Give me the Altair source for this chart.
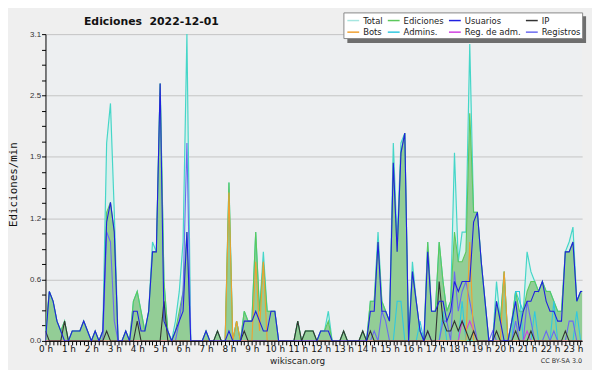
import altair as alt
import pandas as pd

# ---------------- data (values are edits per minute, 10-minute buckets) ----------------
hour_labels = [f"{h} h" for h in range(24)]
series_names = ["Total", "Ediciones", "Usuarios", "IP", "Bots", "Admins.", "Reg. de adm.", "Registros"]
series_colors = ["#a6e6e0", "#5cc85c", "#2020e0", "#333333", "#f0a030", "#30c8e0", "#d040e0", "#6a6af0"]

total = [
    .1, .5, .4, .2, .1, .2,   0, .1, .1, .1, .2, .1,   0, .1, 0, .1, 2.0, 2.4,
    1.3, 0, 0, .1, 0, .4,   .5, .3, .1, .3, 1.0, .9,   2.6, .6, .1, 0, .2, .5,
    1.0, 3.1, 0, 0, 0, 0,   .1, 0, 0, .1, 0, 0,   1.6, 0, .2, 0, .3, .2,
    .2, 1.1, .3, .9, .3, .3,   .3, 0, 0, 0, 0, 0,   .2, 0, .1, .1, .1, 0,
    .1, .1, .3, 0, 0, 0,   .1, 0, 0, 0, 0, .1,   0, .4, .4, 1.1, .4, .3,
    .2, 2.0, 1.0, 2.0, 2.1, 0,   .8, .4, .1, 0, 1.0, .3,   .3, 1.0, .6, .3, .4, 1.9,
    .8, 1.1, 1.1, 3.0, 1.3, 1.3,   .8, .4, 0, 0, .6, .2,   .7, 0, .2, .5, .4, .3,
    .9, .7, .6, .5, .6, .5,   .5, .4, .3, .3, .9, 1.0,   1.15, .4, .5, .5, .5, .5,
]
ediciones = [
    .1, .5, .4, .2, .1, .2,   0, .1, .1, .1, .2, .1,   0, .1, 0, .1, 1.3, 1.4,
    1.1, 0, 0, .1, 0, .4,   .5, .3, .1, .3, .9, .9,   2.6, .6, .1, 0, .1, .3,
    .5, 1.1, 0, 0, 0, 0,   .1, 0, 0, .1, 0, 0,   1.6, 0, .2, 0, .3, .2,
    .2, 1.1, .3, .8, .3, .3,   .3, 0, 0, 0, 0, 0,   .2, 0, .1, .1, .1, 0,
    .1, .1, .2, 0, 0, 0,   .1, 0, 0, 0, 0, .1,   0, .4, .4, 1.0, .4, .3,
    .2, 1.8, .9, 1.9, 2.1, 0,   .7, .4, .1, 0, 1.0, .3,   .3, 1.0, .6, .3, .4, 1.1,
    .8, .8, .9, 2.3, 1.3, 1.3,   .8, .4, 0, 0, .4, .2,   .7, 0, .2, .5, .3, .3,
    .5, .6, .6, .5, .6, .5,   .5, .4, .3, .3, .9, .9,   1.0, .4, .5, .5, .5, .5,
]
usuarios = [
    0, .5, .4, .2, .1, 0,   0, .1, .1, .1, .2, .1,   0, .1, 0, .1, 1.2, 1.4,
    1.1, 0, 0, .1, 0, .3,   .3, .1, .1, .3, .9, .9,   2.6, .2, .1, 0, .1, .2,
    .3, 1.1, 0, 0, 0, 0,   .1, 0, 0, 0, 0, 0,   .1, 0, 0, 0, .2, .2,
    .2, .3, .2, .1, .1, .3,   .3, 0, 0, 0, 0, 0,   0, 0, 0, 0, 0, 0,
    .1, .1, .1, 0, 0, 0,   0, 0, 0, 0, 0, 0,   0, .3, .3, 1.0, .3, .3,
    .2, 1.8, .9, 1.9, 2.1, 0,   .7, .4, .1, 0, .9, .3,   .3, .4, .4, .2, .3, .6,
    .5, .6, .6, .6, 1.2, 1.3,   .8, .4, 0, 0, .4, .2,   0, 0, .2, .4, .1, .3,
    .4, .4, .5, .5, .6, .4,   .3, .3, .2, .2, .9, .9,   1.0, .4, .5, .5, .5, .5,
]
ip = [
    .1, 0, 0, 0, 0, .2,   0, 0, 0, 0, 0, 0,   0, 0, 0, 0, .1, 0,
    0, 0, 0, 0, 0, 0,   .2, 0, 0, 0, 0, 0,   0, .4, 0, 0, 0, 0,
    0, 0, 0, 0, 0, 0,   0, 0, 0, .1, 0, 0,   0, 0, 0, 0, .1, 0,
    0, 0, 0, 0, 0, 0,   0, 0, 0, 0, 0, 0,   .2, 0, .1, .1, .1, 0,
    0, 0, 0, 0, 0, 0,   .1, 0, 0, 0, 0, .1,   0, .1, 0, 0, 0, 0,
    0, 0, 0, 0, 0, 0,   0, 0, 0, 0, .1, 0,   0, .6, .2, .1, .1, .2,
    .1, .2, .1, 0, .1, 0,   0, 0, 0, 0, .1, 0,   0, 0, 0, .1, 0, 0,
    0, .1, 0, 0, 0, 0,   0, 0, 0, 0, .1, 0,   0, 0, 0, 0, 0, 0,
]
bots = [0.0] * 144
bots_points = {48: 1.5, 50: .2, 55: .8, 56: .1, 57: .8, 111: 1.0, 120: .7}
admins = [0.0] * 144
admins_points = {92: .4, 93: .4, 98: .2, 104: .3, 109: .4, 123: .5, 124: .5, 128: .3, 133: .4, 139: .3}
reg_adm = [0.0] * 144
reg_adm_points = {109: .2, 110: .1, 111: .2, 112: .1, 126: .1}
registros = [0.0] * 144
registros_points = {16: 1.1, 17: 1.0, 18: .2, 35: .2, 36: .5, 37: 2.0, 86: .1, 88: .3, 89: .2,
                    100: .1, 104: .2, 105: .2, 107: .7, 108: .3, 109: .5, 110: .6, 111: .4,
                    112: .2, 117: .1, 123: .2, 126: .4, 127: .2, 131: .1, 133: .1, 137: .2, 138: .2}
for arr, pts in ((bots, bots_points), (admins, admins_points), (reg_adm, reg_adm_points),
                 (registros, registros_points)):
    for k, v in pts.items():
        arr[k] = v

# ---------------- table ----------------
wide = pd.DataFrame({"i": list(range(144)), "Total": total, "Ediciones": ediciones,
                     "Usuarios": usuarios, "IP": ip, "Bots": bots, "Admins": admins,
                     "RegAdm": reg_adm, "Registros": registros})
line_fields = ["Ediciones", "Admins", "Registros", "RegAdm", "Bots", "IP", "Usuarios"]

FONT = "DejaVu Sans"
XMAX = 140.4  # the plot ends a little before the end of the day

# legend fills columns first: order the domain so rows read like the reference
legend_domain = ["Total", "Bots", "Ediciones", "Admins.", "Usuarios", "Reg. de adm.", "IP", "Registros"]
legend_range = [series_colors[series_names.index(s)] for s in legend_domain]

x_axis = alt.Axis(values=list(range(0, 141)),
                  labelExpr="datum.value % 6 == 0 ? (datum.value / 6) + ' h' : ''",
                  tickSize=4, labelFontSize=9, labelFont=FONT, labelColor="#111",
                  labelPadding=0, labelOverlap=False, labelFlush=False, labelBound=False,
                  domainColor="#000", tickColor="#000", grid=False,
                  title="wikiscan.org", titleFont=FONT, titleFontSize=9,
                  titleFontWeight="normal", titleColor="#222",
                  titleX=255, titleY=23, titleBaseline="alphabetic")
x_enc = alt.X("i:Q", scale=alt.Scale(domain=[0, XMAX], nice=False, zero=False), axis=x_axis)

ymaj = "abs(datum.value / 0.62 - round(datum.value / 0.62)) < 0.01"
y_axis = alt.Axis(values=[round(k * 0.155, 4) for k in range(21)],
                  labelExpr=f"{ymaj} ? format(datum.value, '.1f') : ''",
                  tickSize=4, labelFontSize=8, labelFont="Liberation Sans",
                  labelColor="#333", labelPadding=1, labelOverlap=False,
                  domainColor="#000", tickColor="#000",
                  grid=True, gridColor="#c4c4c4",
                  gridOpacity=alt.condition(ymaj, alt.value(1), alt.value(0)),
                  title="Ediciones/min", titleFont="DejaVu Sans Mono", titleFontSize=11,
                  titleFontWeight="normal", titleColor="#111",
                  titleAngle=-90, titleX=-32, titleY=152, titleAlign="center",
                  titleBaseline="middle")
y_scale = alt.Scale(domain=[0, 3.1], nice=False)

base = alt.Chart(wide)
area_total = base.mark_area(color="#d4f0ec", opacity=0.9, clip=True).encode(
    x=x_enc, y=alt.Y("Total:Q", scale=y_scale, axis=y_axis))
area_ed = base.mark_area(color="#8cc98c", opacity=0.9, clip=True).encode(
    x=x_enc, y=alt.Y("Ediciones:Q", scale=y_scale, axis=y_axis))
line_total = base.mark_line(color="#45d6c8", strokeWidth=1.2, clip=True).encode(
    x=x_enc, y=alt.Y("Total:Q", scale=y_scale, axis=y_axis))

lines = base.transform_fold(line_fields, as_=["field", "v"]).transform_calculate(
    serie="{'Ediciones':'Ediciones','Admins':'Admins.','Registros':'Registros','RegAdm':'Reg. de adm.','Bots':'Bots','IP':'IP','Usuarios':'Usuarios'}[datum.field]",
    ord="indexof(" + str(line_fields) + ", datum.field)",
).mark_line(strokeWidth=1.1, clip=True).encode(
    x=x_enc,
    y=alt.Y("v:Q", scale=y_scale, axis=y_axis),
    color=alt.Color("serie:N",
                    scale=alt.Scale(domain=legend_domain, range=legend_range),
                    legend=alt.Legend(orient="none", legendX=302, legendY=-22, columns=4,
                                      title=None, fillColor="#ffffff", strokeColor="#888888",
                                      padding=1, symbolType="stroke", symbolSize=144,
                                      symbolStrokeWidth=1.5,
                                      labelFont="DejaVu Sans Condensed, DejaVu Sans",
                                      labelFontSize=9.5, labelColor="#222", rowPadding=0,
                                      columnPadding=2, labelOffset=3, symbolOffset=2)),
    detail="serie:N",
    order=alt.Order("ord:Q"),
)

shadow = alt.Chart(pd.DataFrame({"k": [0]})).mark_rect(color="#6e6e6e").encode(
    x=alt.value(306), x2=alt.value(548), y=alt.value(-18), y2=alt.value(9))

license_txt = alt.Chart(pd.DataFrame({"t": ["CC BY-SA 3.0"]})).mark_text(
    font=FONT, fontSize=6.5, color="#333", align="right", baseline="alphabetic").encode(
    text="t:N", x=alt.value(544), y=alt.value(333))

chart = alt.layer(area_total, area_ed, line_total, lines, shadow, license_txt).properties(
    width=544, height=311,
    title=alt.TitleParams("Ediciones\u00a0\u00a02022-12-01", anchor="start", frame="group",
                          font=FONT, fontSize=11, fontWeight="bold", color="#111",
                          dx=39, dy=24, offset=0, baseline="alphabetic"),
    padding={"left": 38, "top": 24, "right": 10, "bottom": 27},
    autosize=alt.AutoSizeParams(type="none"),
    background="#efefef",
).configure_view(fill="#edeff1", stroke=None)

chart.save("out.html", embed_options={"renderer": "svg", "actions": False})
